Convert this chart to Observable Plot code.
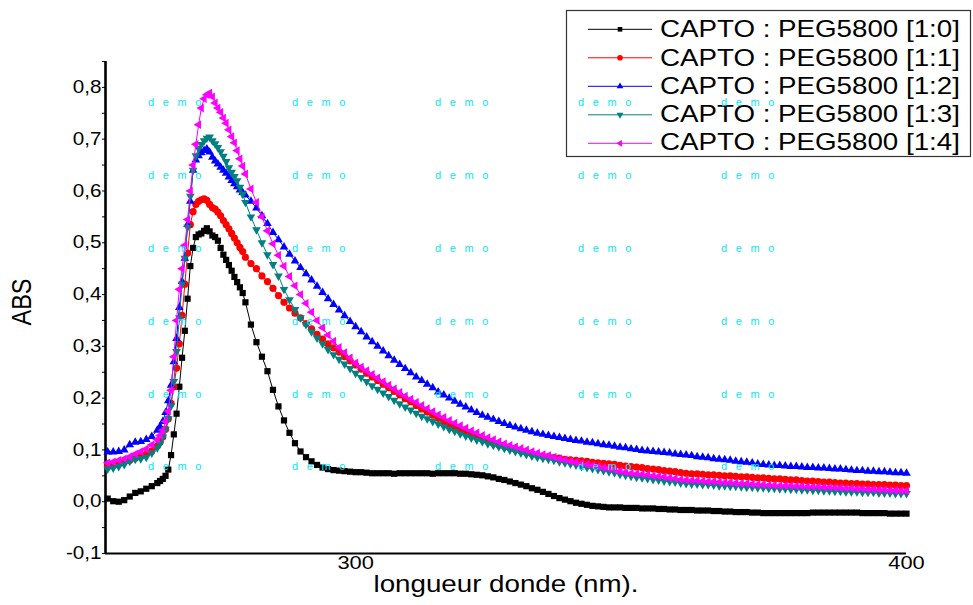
<!DOCTYPE html>
<html>
<head>
<meta charset="utf-8">
<script src="https://cdn.jsdelivr.net/npm/d3@7"></script>
<script src="https://cdn.jsdelivr.net/npm/@observablehq/plot@0.6"></script>
<style>
html, body { margin: 0; padding: 0; background: #fff; overflow: hidden; }
#wrap { position: relative; width: 973px; height: 605px; overflow: hidden; font-family: "Liberation Sans", Arial, sans-serif; }
#legend { position: absolute; left: 565px; top: 9px; }
#wm { position: absolute; left: 0; top: 0; width: 973px; height: 605px; pointer-events: none; }
.wmt { position: absolute; font-family: "Liberation Sans", Arial, sans-serif; font-size: 11px; letter-spacing: 8.6px; color: #0ae6f5; white-space: nowrap; line-height: 1; }
</style>
</head>
<body>
<div id="wrap"></div>
<script>
// ---------- DATA ----------
const wavelength = [
  255,256,257,258,259,260,261,262,263,264,
  264.5,265,265.5,266,266.5,267,267.5,268,268.5,269,269.5,270,270.5,271,271.5,272,
  272.5,273,273.5,274,274.5,275,275.5,276,276.5,277,277.5,278,278.5,279,279.5,280,
  281,282,283,284,285,286,287,288,289,290,
  291,292,293,294,295,296,297,298,299,300,
  301,302,303,304,305,306,307,308,309,310,
  311,312,313,314,315,316,317,318,319,320,
  321,322,323,324,325,326,327,328,329,330,
  331,332,333,334,335,336,337,338,339,340,
  341,342,343,344,345,346,347,348,349,350,
  351,352,353,354,355,356,357,358,359,360,
  361,362,363,364,365,366,367,368,369,370,
  371,372,373,374,375,376,377,378,379,380,
  381,382,383,384,385,386,387,388,389,390,
  391,392,393,394,395,396,397,398,399,400
];

const abs_1_0 = [
  0.006,0.001,0.000,0.003,0.010,0.017,0.020,0.025,0.030,0.036,
  0.040,0.044,0.050,0.062,0.090,0.130,0.170,0.222,0.278,0.330,0.392,0.455,0.490,0.511,0.516,0.518,
  0.523,0.528,0.522,0.514,0.511,0.504,0.490,0.477,0.467,0.457,0.446,0.434,0.424,0.414,0.403,0.385,
  0.342,0.308,0.280,0.252,0.216,0.184,0.157,0.133,0.113,0.097,
  0.086,0.078,0.071,0.066,0.063,0.061,0.060,0.059,0.058,0.057,
  0.057,0.056,0.055,0.055,0.055,0.055,0.054,0.055,0.055,0.055,
  0.055,0.055,0.055,0.054,0.055,0.055,0.055,0.055,0.054,0.054,
  0.053,0.052,0.051,0.049,0.047,0.044,0.042,0.039,0.036,0.033,
  0.030,0.026,0.023,0.019,0.015,0.011,0.007,0.004,0.001,-0.002,
  -0.004,-0.006,-0.008,-0.009,-0.010,-0.011,-0.011,-0.011,-0.012,-0.012,
  -0.012,-0.013,-0.013,-0.013,-0.014,-0.014,-0.015,-0.015,-0.016,-0.016,
  -0.016,-0.017,-0.017,-0.017,-0.018,-0.018,-0.019,-0.019,-0.020,-0.020,
  -0.020,-0.021,-0.021,-0.022,-0.022,-0.022,-0.022,-0.022,-0.022,-0.022,
  -0.022,-0.022,-0.021,-0.021,-0.021,-0.021,-0.021,-0.021,-0.021,-0.021,
  -0.021,-0.022,-0.022,-0.022,-0.022,-0.022,-0.023,-0.023,-0.023,-0.023
];

const abs_1_1 = [
  0.068,0.070,0.073,0.076,0.080,0.084,0.088,0.092,0.098,0.108,
  0.115,0.125,0.140,0.160,0.190,0.222,0.258,0.305,0.360,0.420,0.480,0.535,0.560,0.574,0.580,0.583,
  0.585,0.582,0.574,0.568,0.565,0.559,0.552,0.543,0.535,0.527,0.518,0.509,0.500,0.491,0.483,0.472,
  0.460,0.450,0.436,0.425,0.412,0.398,0.385,0.374,0.364,0.355,
  0.344,0.334,0.323,0.314,0.305,0.297,0.289,0.280,0.272,0.264,
  0.256,0.248,0.241,0.234,0.227,0.220,0.213,0.206,0.199,0.193,
  0.186,0.179,0.173,0.167,0.161,0.155,0.150,0.144,0.139,0.134,
  0.129,0.125,0.121,0.117,0.113,0.110,0.107,0.104,0.101,0.098,
  0.095,0.093,0.090,0.088,0.087,0.085,0.084,0.082,0.081,0.080,
  0.079,0.078,0.076,0.075,0.074,0.073,0.072,0.070,0.069,0.068,
  0.067,0.066,0.064,0.063,0.062,0.060,0.059,0.058,0.056,0.055,
  0.054,0.054,0.053,0.052,0.052,0.051,0.050,0.050,0.049,0.048,
  0.048,0.047,0.046,0.046,0.045,0.044,0.044,0.043,0.042,0.042,
  0.041,0.040,0.040,0.039,0.038,0.038,0.037,0.036,0.036,0.035,
  0.035,0.034,0.034,0.033,0.033,0.033,0.032,0.032,0.031,0.031
];

const abs_1_2 = [
  0.096,0.096,0.097,0.100,0.110,0.115,0.116,0.120,0.126,0.138,
  0.145,0.155,0.172,0.195,0.225,0.270,0.315,0.375,0.425,0.470,0.535,0.580,0.640,0.660,0.668,0.674,
  0.678,0.681,0.675,0.665,0.658,0.652,0.646,0.640,0.634,0.627,0.620,0.614,0.608,0.602,0.597,0.592,
  0.580,0.567,0.552,0.537,0.520,0.506,0.492,0.478,0.465,0.452,
  0.440,0.428,0.416,0.404,0.392,0.381,0.370,0.359,0.348,0.338,
  0.328,0.318,0.309,0.300,0.291,0.282,0.273,0.265,0.257,0.249,
  0.241,0.234,0.227,0.220,0.212,0.206,0.200,0.194,0.188,0.183,
  0.177,0.172,0.167,0.163,0.159,0.155,0.151,0.147,0.144,0.141,
  0.138,0.135,0.132,0.130,0.128,0.126,0.124,0.122,0.120,0.118,
  0.117,0.115,0.114,0.112,0.110,0.109,0.107,0.105,0.104,0.102,
  0.101,0.099,0.098,0.097,0.096,0.095,0.094,0.092,0.091,0.090,
  0.089,0.087,0.086,0.085,0.083,0.082,0.081,0.080,0.078,0.077,
  0.076,0.075,0.073,0.072,0.071,0.070,0.070,0.069,0.068,0.068,
  0.067,0.066,0.066,0.065,0.065,0.064,0.063,0.063,0.062,0.061,
  0.060,0.060,0.059,0.059,0.058,0.058,0.057,0.056,0.056,0.055
];

const abs_1_3 = [
  0.063,0.065,0.068,0.072,0.078,0.082,0.083,0.086,0.094,0.104,
  0.112,0.125,0.140,0.160,0.185,0.232,0.290,0.355,0.420,0.470,0.530,0.590,0.640,0.668,0.682,0.690,
  0.697,0.702,0.704,0.697,0.691,0.684,0.676,0.667,0.657,0.645,0.636,0.628,0.620,0.607,0.594,0.578,
  0.550,0.525,0.500,0.477,0.458,0.436,0.410,0.390,0.371,0.355,
  0.342,0.328,0.316,0.305,0.294,0.284,0.275,0.266,0.257,0.248,
  0.240,0.232,0.224,0.217,0.210,0.203,0.196,0.189,0.183,0.177,
  0.171,0.165,0.160,0.155,0.150,0.145,0.140,0.136,0.131,0.127,
  0.123,0.119,0.116,0.112,0.109,0.106,0.103,0.100,0.097,0.094,
  0.091,0.088,0.086,0.084,0.082,0.080,0.077,0.075,0.073,0.071,
  0.068,0.066,0.064,0.062,0.060,0.058,0.056,0.053,0.051,0.049,
  0.047,0.046,0.045,0.043,0.042,0.040,0.039,0.038,0.036,0.035,
  0.034,0.034,0.033,0.033,0.032,0.031,0.031,0.030,0.030,0.029,
  0.028,0.028,0.027,0.027,0.026,0.026,0.025,0.025,0.024,0.024,
  0.023,0.023,0.022,0.022,0.021,0.021,0.020,0.020,0.019,0.019,
  0.019,0.018,0.018,0.018,0.017,0.017,0.017,0.016,0.016,0.016
];

const abs_1_4 = [
  0.075,0.077,0.080,0.083,0.087,0.092,0.097,0.102,0.110,0.120,
  0.128,0.138,0.155,0.175,0.215,0.280,0.350,0.410,0.450,0.495,0.545,0.600,0.650,0.690,0.728,0.760,
  0.778,0.786,0.789,0.782,0.770,0.760,0.752,0.741,0.731,0.718,0.705,0.693,0.678,0.662,0.648,0.633,
  0.604,0.578,0.550,0.523,0.498,0.476,0.455,0.435,0.417,0.400,
  0.383,0.366,0.350,0.336,0.322,0.310,0.298,0.288,0.278,0.268,
  0.260,0.253,0.246,0.239,0.232,0.225,0.218,0.211,0.204,0.198,
  0.192,0.186,0.180,0.174,0.168,0.163,0.157,0.152,0.147,0.142,
  0.137,0.133,0.128,0.124,0.120,0.116,0.112,0.109,0.106,0.103,
  0.100,0.097,0.094,0.091,0.089,0.086,0.083,0.081,0.078,0.076,
  0.074,0.072,0.070,0.068,0.066,0.064,0.062,0.059,0.057,0.055,
  0.054,0.053,0.052,0.050,0.049,0.048,0.046,0.045,0.043,0.042,
  0.041,0.041,0.040,0.039,0.039,0.038,0.037,0.037,0.036,0.035,
  0.035,0.034,0.033,0.033,0.032,0.032,0.031,0.031,0.031,0.030,
  0.030,0.029,0.029,0.029,0.028,0.028,0.027,0.027,0.026,0.026,
  0.025,0.025,0.024,0.024,0.023,0.023,0.022,0.022,0.021,0.021
];

const seriesNames = [
  "CAPTO : PEG5800 [1:0]",
  "CAPTO : PEG5800 [1:1]",
  "CAPTO : PEG5800 [1:2]",
  "CAPTO : PEG5800 [1:3]",
  "CAPTO : PEG5800 [1:4]"
];
const seriesValues = [abs_1_0, abs_1_1, abs_1_2, abs_1_3, abs_1_4];

const yTicks = [-0.1, 0.0, 0.1, 0.2, 0.3, 0.4, 0.5, 0.6, 0.7, 0.8];
const yMinorTicks = [-0.05, 0.05, 0.15, 0.25, 0.35, 0.45, 0.55, 0.65, 0.75, 0.85];
const xTicks = [300, 400];
const xDomain = [254.6, 400];
const yDomain = [-0.1, 0.85];
const xLabel = "longueur donde (nm).";
const yLabel = "ABS";
const watermark = "demo";

// ---------- STYLE ----------
const colors = ["#000000", "#ff0000", "#0000ff", "#008080", "#ff00ff"];
function tri(angle) {
  return {
    draw(ctx, size) {
      const s = Math.sqrt(size * 4 / Math.sqrt(3));
      const h = s * Math.sqrt(3) / 2;
      const pts = [[0, -2 * h / 3], [s / 2, h / 3], [-s / 2, h / 3]].map(([x, y]) => [
        x * Math.cos(angle) - y * Math.sin(angle),
        x * Math.sin(angle) + y * Math.cos(angle)
      ]);
      ctx.moveTo(pts[0][0], pts[0][1]);
      ctx.lineTo(pts[1][0], pts[1][1]);
      ctx.lineTo(pts[2][0], pts[2][1]);
      ctx.closePath();
    }
  };
}
const symbols = [d3.symbolSquare, d3.symbolCircle, tri(0), tri(Math.PI), tri(-Math.PI / 2)];
const radii = [3.5, 3.6, 3.2, 3.2, 3.2];
const legendRadii = [2.6, 2.8, 2.5, 2.5, 2.5];
const STRETCH = 1.18;

// ---------- BUILD ----------
const rowsBySeries = seriesValues.map((vals, i) =>
  wavelength.map((w, j) => ({wl: w, abs: vals[j], series: seriesNames[i]}))
);

const fmt = d => d.toFixed(1).replace(".", ",");

const marks = [
  Plot.axisY({ticks: yMinorTicks, tickSize: 3, tickFormat: () => "", label: null}),
  Plot.axisY({ticks: yTicks, tickSize: 3, tickPadding: 1, tickFormat: fmt, fontSize: 17.5, label: null}),
  Plot.axisX({ticks: xTicks, tickSize: 0, tickPadding: 2, fontSize: 18.5, label: null}),
  Plot.ruleX([xDomain[0]], {stroke: "#000", strokeWidth: 2.6}),
  Plot.ruleY([yDomain[0]], {stroke: "#000", strokeWidth: 2})
];
rowsBySeries.forEach((rows, i) => {
  marks.push(Plot.line(rows, {x: "wl", y: "abs", stroke: colors[i], strokeWidth: 1}));
  marks.push(Plot.dot(rows, {x: "wl", y: "abs", fill: colors[i], stroke: "none", symbol: symbols[i], r: radii[i]}));
});
marks.push(Plot.text([xLabel], {text: d => d, frameAnchor: "bottom", dy: 38.5, fontSize: 23.5, fill: "#000"}));
marks.push(Plot.text([yLabel], {text: d => d, frameAnchor: "left", dx: -83, dy: 18, rotate: -90, fontSize: 23.5, fill: "#000"}));

const chart = Plot.plot({
  width: 973,
  height: 605,
  marginLeft: 105,
  marginRight: 67,
  marginTop: 61,
  marginBottom: 52,
  x: {domain: xDomain},
  y: {domain: yDomain},
  style: {fontFamily: "'Liberation Sans', Arial, sans-serif", background: "#fff", color: "#000", overflow: "visible"},
  marks
});

const wrap = document.getElementById("wrap");
wrap.appendChild(chart);

// ---------- LEGEND ----------
const lg = d3.create("svg").attr("id", "legend").attr("width", 408).attr("height", 150)
  .style("font-family", "'Liberation Sans', Arial, sans-serif");
lg.append("rect").attr("x", 1.5).attr("y", 1.5).attr("width", 404).attr("height", 146)
  .attr("fill", "#fff").attr("stroke", "#333").attr("stroke-width", 1.2);
seriesNames.forEach((name, i) => {
  const cy = 20.3 + i * 28.5;
  const ty = 20 + i * 28.2;
  lg.append("line").attr("x1", 23).attr("x2", 87).attr("y1", cy).attr("y2", cy)
    .attr("stroke", colors[i]).attr("stroke-width", 1);
  lg.append("path").attr("transform", `translate(55,${cy})`)
    .attr("d", d3.symbol(symbols[i], Math.PI * legendRadii[i] * legendRadii[i])())
    .attr("fill", colors[i]);
  lg.append("text").attr("x", 95).attr("y", ty + 8.4).attr("font-size", 23.5)
    .attr("fill", "#000").text(name);
});
wrap.appendChild(lg.node());

// ---------- WATERMARK ----------
const wm = document.createElement("div");
wm.id = "wm";
const wmCols = [148, 292, 435, 578, 721];
const wmRows = [103, 176, 249, 322, 395, 467];
wmRows.forEach(r => wmCols.forEach(c => {
  const s = document.createElement("span");
  s.className = "wmt";
  s.textContent = watermark;
  s.style.left = c + "px";
  s.style.top = (r - 6) + "px";
  wm.appendChild(s);
}));
wrap.appendChild(wm);

// ---------- horizontal text stretch (reference glyphs are wide) ----------
function stretchTexts(svg, s) {
  svg.querySelectorAll("text").forEach(el => {
    if (!el.textContent) return;
    const bb = el.getBBox();
    const anchor = getComputedStyle(el).textAnchor;
    const tr = el.getAttribute("transform") || "";
    if (/rotate/.test(tr)) {
      const cy = bb.y + bb.height / 2;
      el.setAttribute("transform", `${tr} translate(0,${cy}) scale(1,${s}) translate(0,${-cy})`);
    } else {
      const px = anchor === "end" ? bb.x + bb.width : anchor === "middle" ? bb.x + bb.width / 2 : bb.x;
      el.setAttribute("transform", `${tr} translate(${px},0) scale(${s},1) translate(${-px},0)`);
    }
  });
}
stretchTexts(chart, STRETCH);
stretchTexts(lg.node(), STRETCH);
</script>
</body>
</html>
